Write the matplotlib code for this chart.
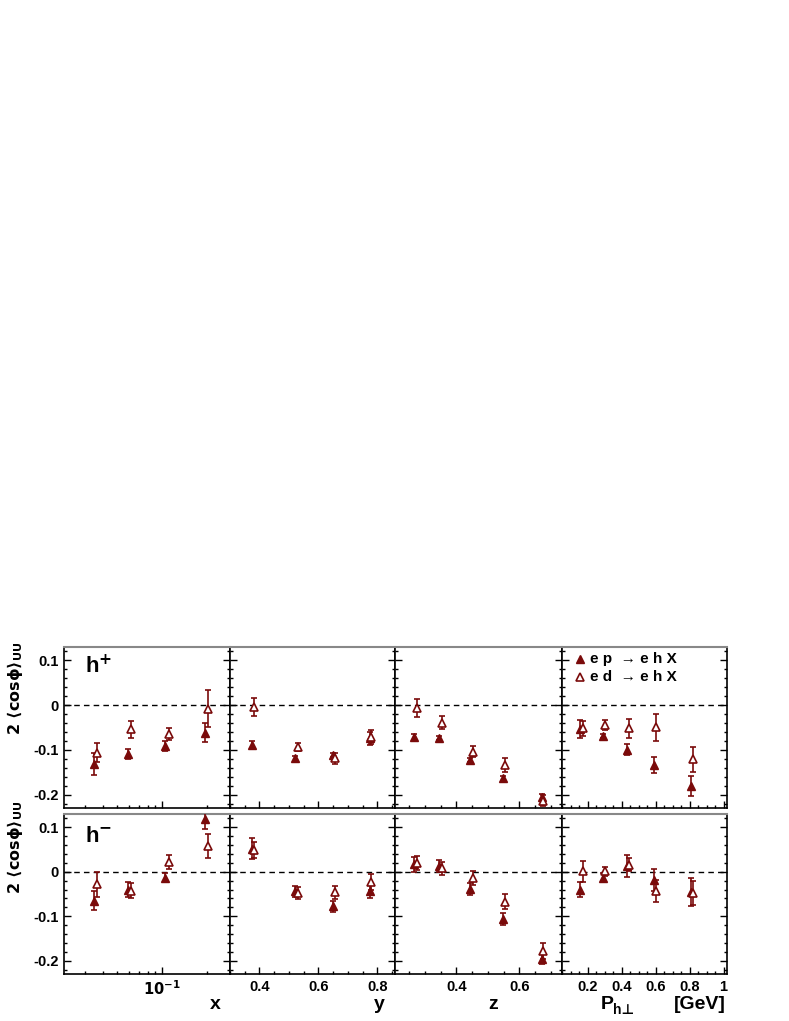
import matplotlib
matplotlib.use('Agg')
import matplotlib.pyplot as plt
from matplotlib.ticker import MultipleLocator, FixedLocator, NullFormatter

plt.rcParams['font.family'] = ['Liberation Sans', 'DejaVu Sans']
plt.rcParams['font.weight'] = 'bold'
plt.rcParams['mathtext.fontset'] = 'dejavusans'

# ── Data ──────────────────────────────────────────────────────────────────────
# bin centres (ep slightly left, ed slightly right)
x_ep = [0.035, 0.059, 0.105, 0.195]
x_ed = [0.0365, 0.062, 0.111, 0.205]
y_ep = [0.374, 0.521, 0.648, 0.775]
y_ed = [0.383, 0.532, 0.658, 0.780]
z_ep = [0.266, 0.344, 0.444, 0.547, 0.671]
z_ed = [0.274, 0.353, 0.454, 0.555, 0.676]
pt_ep = [0.156, 0.289, 0.430, 0.591, 0.807]
pt_ed = [0.172, 0.305, 0.444, 0.604, 0.822]

# h+  : 2<cos phi>_UU and errors
hp_x_ep = [-0.132, -0.109, -0.091, -0.062]
hp_x_ep_err = [0.025, 0.011, 0.011, 0.021]
hp_x_ed = [-0.106, -0.054, -0.065, -0.008]
hp_x_ed_err = [0.021, 0.019, 0.013, 0.042]
hp_y_ep = [-0.089, -0.119, -0.112, -0.074]
hp_y_ep_err = [0.008, 0.005, 0.005, 0.015]
hp_y_ed = [-0.004, -0.093, -0.119, -0.071]
hp_y_ed_err = [0.021, 0.009, 0.012, 0.015]
hp_z_ep = [-0.071, -0.074, -0.123, -0.164, -0.205]
hp_z_ep_err = [0.006, 0.005, 0.005, 0.005, 0.007]
hp_z_ed = [-0.007, -0.039, -0.104, -0.134, -0.214]
hp_z_ed_err = [0.020, 0.015, 0.012, 0.015, 0.012]
hp_pt_ep = [-0.054, -0.069, -0.100, -0.134, -0.181]
hp_pt_ep_err = [0.020, 0.004, 0.012, 0.017, 0.022]
hp_pt_ed = [-0.052, -0.045, -0.052, -0.050, -0.121]
hp_pt_ed_err = [0.016, 0.011, 0.021, 0.031, 0.028]

# h-
hm_x_ep = [-0.065, -0.040, -0.013, 0.118]
hm_x_ep_err = [0.021, 0.017, 0.010, 0.022]
hm_x_ed = [-0.028, -0.043, 0.022, 0.058]
hm_x_ed_err = [0.028, 0.017, 0.015, 0.026]
hm_y_ep = [0.052, -0.044, -0.078, -0.044]
hm_y_ep_err = [0.024, 0.012, 0.012, 0.015]
hm_y_ed = [0.049, -0.048, -0.046, -0.022]
hm_y_ed_err = [0.018, 0.013, 0.015, 0.018]
hm_z_ep = [0.017, 0.013, -0.039, -0.106, -0.196]
hm_z_ep_err = [0.017, 0.013, 0.013, 0.013, 0.012]
hm_z_ed = [0.020, 0.008, -0.014, -0.067, -0.179]
hm_z_ed_err = [0.016, 0.015, 0.015, 0.017, 0.018]
hm_pt_ep = [-0.040, -0.013, 0.013, -0.018, -0.046]
hm_pt_ep_err = [0.017, 0.010, 0.025, 0.025, 0.032]
hm_pt_ed = [0.001, 0.001, 0.016, -0.043, -0.048]
hm_pt_ed_err = [0.023, 0.010, 0.015, 0.024, 0.027]

xlabels = ['x', 'y', 'z']

# ── Figure setup ──────────────────────────────────────────────────────────────
W, H = 789, 1021
fig = plt.figure(figsize=(W / 100, H / 100), dpi=100)
fig.patch.set_facecolor('white')

COL = '#7a0a0a'
col_edges = [64, 230, 395, 562, 727]
row_edges = [(647, 808), (814, 974)]
xlims = [(0.0218, 0.288), (0.30, 0.86), (0.205, 0.735), (0.05, 1.02)]

rows = [
    [(x_ep, hp_x_ep, hp_x_ep_err, x_ed, hp_x_ed, hp_x_ed_err),
     (y_ep, hp_y_ep, hp_y_ep_err, y_ed, hp_y_ed, hp_y_ed_err),
     (z_ep, hp_z_ep, hp_z_ep_err, z_ed, hp_z_ed, hp_z_ed_err),
     (pt_ep, hp_pt_ep, hp_pt_ep_err, pt_ed, hp_pt_ed, hp_pt_ed_err)],
    [(x_ep, hm_x_ep, hm_x_ep_err, x_ed, hm_x_ed, hm_x_ed_err),
     (y_ep, hm_y_ep, hm_y_ep_err, y_ed, hm_y_ed, hm_y_ed_err),
     (z_ep, hm_z_ep, hm_z_ep_err, z_ed, hm_z_ed, hm_z_ed_err),
     (pt_ep, hm_pt_ep, hm_pt_ep_err, pt_ed, hm_pt_ed, hm_pt_ed_err)],
]

axes = {}
for r, (ytop, ybot) in enumerate(row_edges):
    for c in range(4):
        l = col_edges[c] / W
        w = (col_edges[c + 1] - col_edges[c]) / W
        b = 1 - ybot / H
        h = (ybot - ytop) / H
        ax = fig.add_axes([l, b, w, h])
        axes[(r, c)] = ax

        if c == 0:
            ax.set_xscale('log')
        ax.set_xlim(*xlims[c])
        ax.set_ylim(-0.23, 0.13)

        ax.axhline(0, color='black', lw=1.0, ls=(0, (4, 3)), zorder=1)

        xe, ve, ee, xd, vd, ed = rows[r][c]
        ax.errorbar(xe, ve, yerr=ee, fmt='^', color=COL, mfc=COL, mec=COL,
                    ms=6, elinewidth=1.2, capsize=2.5, capthick=1.2, zorder=3)
        ax.errorbar(xd, vd, yerr=ed, fmt='^', color=COL, mfc='white', mec=COL,
                    ms=6, mew=1.2, elinewidth=1.2, capsize=2.5, capthick=1.2, zorder=3)

        # ticks
        ax.yaxis.set_major_locator(MultipleLocator(0.1))
        ax.yaxis.set_minor_locator(MultipleLocator(0.02))
        if c == 0:
            ax.xaxis.set_major_locator(FixedLocator([0.1]))
            ax.xaxis.set_minor_locator(FixedLocator([0.03, 0.04, 0.05, 0.06, 0.07,
                                                     0.08, 0.09, 0.2]))
            ax.xaxis.set_minor_formatter(NullFormatter())
            ax.set_xticklabels([r'$\mathbf{10^{-1}}$'])
        elif c == 1:
            ax.xaxis.set_major_locator(FixedLocator([0.4, 0.6, 0.8]))
            ax.xaxis.set_minor_locator(MultipleLocator(0.05))
        elif c == 2:
            ax.xaxis.set_major_locator(FixedLocator([0.4, 0.6]))
            ax.xaxis.set_minor_locator(MultipleLocator(0.05))
        else:
            ax.xaxis.set_major_locator(FixedLocator([0.2, 0.4, 0.6, 0.8, 1.0]))
            ax.xaxis.set_minor_locator(MultipleLocator(0.05))
            ax.set_xticklabels(['0.2', '0.4', '0.6', '0.8', '1'])

        ax.tick_params(which='both', direction='in', top=False, right=True,
                       left=True, bottom=True, width=1.0, colors='black')
        ax.tick_params(which='major', length=5)
        ax.tick_params(which='minor', length=2.5)
        ax.tick_params(labelsize=10.5, pad=4,
                       labelleft=(c == 0), labelbottom=(r == 1))
        for lab in ax.get_xticklabels() + ax.get_yticklabels():
            lab.set_fontweight('bold')

        for s in ['left', 'right', 'bottom']:
            ax.spines[s].set_linewidth(1.2)
            ax.spines[s].set_color('black')
        ax.spines['top'].set_linewidth(1.5)
        ax.spines['top'].set_color('#888888')

# y tick labels on first column
for r in range(2):
    ax = axes[(r, 0)]
    ax.yaxis.set_major_formatter(plt.FuncFormatter(
        lambda v, p: '0' if abs(v) < 1e-9 else ('%.1f' % v)))

# h+ / h- labels
axes[(0, 0)].text(0.125, 0.84, r'h$^{\mathbf{+}}$', transform=axes[(0, 0)].transAxes,
                  fontsize=16, fontweight='bold', va='baseline', ha='left')
axes[(1, 0)].text(0.125, 0.825, r'h$^{\mathbf{-}}$', transform=axes[(1, 0)].transAxes,
                  fontsize=16, fontweight='bold', va='baseline', ha='left')

# y-axis titles
fig.text(15 / W, 1 - 688 / H, r'$\mathbf{2\ \langle cos\phi\rangle_{UU}}$',
         rotation=90, ha='center', va='center', fontsize=11.5)
fig.text(15 / W, 1 - 847 / H, r'$\mathbf{2\ \langle cos\phi\rangle_{UU}}$',
         rotation=90, ha='center', va='center', fontsize=11.5)

# x-axis titles (below the tick labels)
TB = 1 - 1009 / H   # baseline
fig.text(215 / W, TB, xlabels[0], ha='center', va='baseline', fontsize=14, fontweight='bold')
fig.text(379 / W, TB, xlabels[1], ha='center', va='baseline', fontsize=14, fontweight='bold')
fig.text(493 / W, TB, xlabels[2], ha='center', va='baseline', fontsize=14, fontweight='bold')
fig.text(601 / W, TB, 'P', ha='left', va='baseline', fontsize=14, fontweight='bold')
fig.text(613 / W, 1 - 1014 / H, 'h\u22a5', ha='left', va='baseline', fontsize=10,
         fontweight='bold', family=['Liberation Sans', 'DejaVu Sans'])
fig.text(726 / W, TB, '[GeV]', ha='right', va='baseline', fontsize=14, fontweight='bold')

# legend
lax = axes[(0, 3)]
lax.plot([0.109], [0.925], '^', color=COL, ms=6, transform=lax.transAxes, clip_on=False)
lax.plot([0.109], [0.814], '^', color=COL, mfc='white', mec=COL, mew=1.2, ms=6,
         transform=lax.transAxes, clip_on=False)
lax.text(0.17, 0.925, 'e p  \u2192 e h X', transform=lax.transAxes,
         fontsize=11, fontweight='bold', va='center', ha='left')
lax.text(0.17, 0.814, 'e d  \u2192 e h X', transform=lax.transAxes,
         fontsize=11, fontweight='bold', va='center', ha='left')

fig.savefig('out.png', dpi=100, facecolor='white')
